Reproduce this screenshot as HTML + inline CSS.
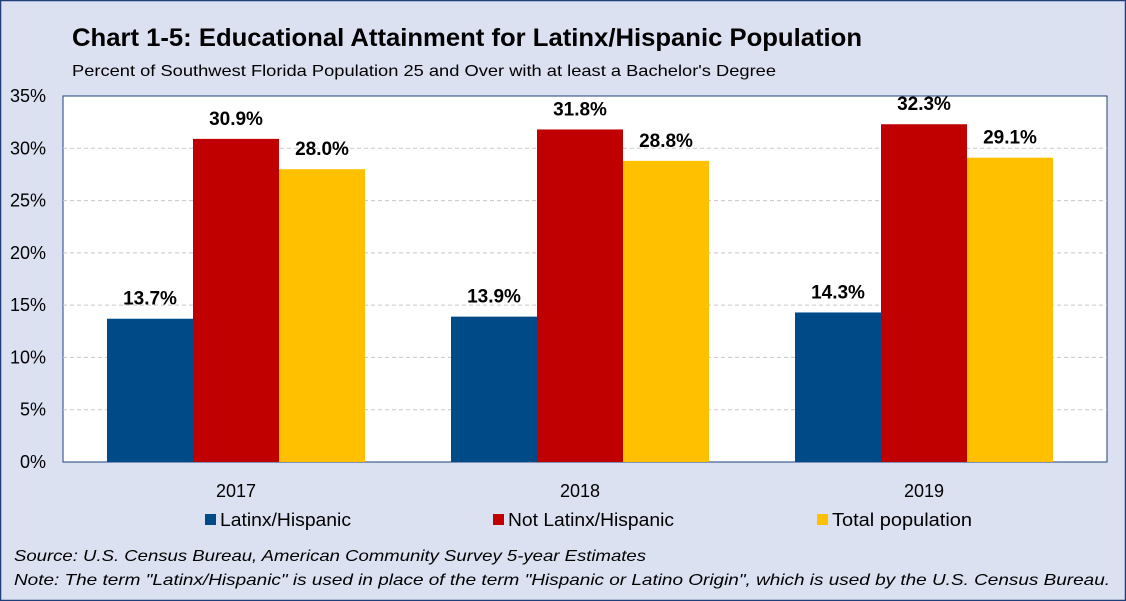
<!DOCTYPE html>
<html><head><meta charset="utf-8"><style>
html,body{margin:0;padding:0;width:1126px;height:601px;overflow:hidden;background:#dbe1f1}
svg{display:block;font-family:"Liberation Sans",sans-serif}
</style></head><body>
<svg id="chart" width="1126" height="601" xmlns="http://www.w3.org/2000/svg">
<rect x="0.5" y="0.5" width="1125" height="600" fill="#dbe1f1" stroke="#1f3f7a" stroke-width="1.5"/>
<text x="72" y="46" font-size="25" font-weight="bold" fill="#000" textLength="790" lengthAdjust="spacingAndGlyphs">Chart 1-5:  Educational Attainment for Latinx/Hispanic Population</text>
<text x="72" y="76" font-size="16" fill="#000" textLength="704" lengthAdjust="spacingAndGlyphs">Percent of Southwest Florida Population 25 and Over with at least a Bachelor's Degree</text>
<rect x="63" y="96" width="1044" height="366" fill="#fff" stroke="#1f3f7a" stroke-width="1"/>
<g id="grid"></g><g id="bars"></g><g id="axes"></g>
<g font-size="18">
<rect x="205" y="514" width="11" height="11" fill="#004a87"/>
<text x="220" y="526" textLength="131" lengthAdjust="spacingAndGlyphs">Latinx/Hispanic</text>
<rect x="493" y="514" width="11" height="11" fill="#c00000"/>
<text x="508" y="526" textLength="166" lengthAdjust="spacingAndGlyphs">Not Latinx/Hispanic</text>
<rect x="817" y="514" width="11" height="11" fill="#ffc000"/>
<text x="832" y="526" textLength="140" lengthAdjust="spacingAndGlyphs">Total population</text>
</g>
<text x="14" y="561" font-size="16" font-style="italic" textLength="632" lengthAdjust="spacingAndGlyphs">Source:  U.S. Census Bureau, American Community Survey 5-year Estimates</text>
<text x="14" y="585" font-size="16" font-style="italic" textLength="1096" lengthAdjust="spacingAndGlyphs">Note:  The term "Latinx/Hispanic" is used in place of the term "Hispanic or Latino Origin", which is used by the U.S. Census Bureau.</text>
</svg>
<script>
const categories = ["2017", "2018", "2019"];
const latinx = [13.7, 13.9, 14.3];
const notLatinx = [30.9, 31.8, 32.3];
const total = [28.0, 28.8, 29.1];
const yTicks = [0, 5, 10, 15, 20, 25, 30, 35];

const NS = "http://www.w3.org/2000/svg";
const plotL = 63, plotR = 1107, plotT = 96, plotB = 462, yMax = 35;
const y = v => plotB - (v / yMax) * (plotB - plotT);
const groupW = 344, groupOff = 44;
const barW = 86;
const x = (i, s) => plotL + groupOff + i * groupW + s * barW;
function mk(tag, attrs, parent) { const e = document.createElementNS(NS, tag); for (const k in attrs) e.setAttribute(k, attrs[k]); parent.appendChild(e); return e; }
const grid = document.getElementById("grid"), bars = document.getElementById("bars"), axes = document.getElementById("axes");
yTicks.forEach(t => {
  if (t > 0 && t < yMax) {
    const l = mk("line", {x1: plotL, x2: plotR, y1: y(t), y2: y(t), stroke: "#c8c8c8", "stroke-dasharray": "4,3"}, grid);
    
    
  }
  const tx = mk("text", {x: 46, y: y(t) + 6, "font-size": 18, "text-anchor": "end"}, axes);
  tx.textContent = t + "%";
  
  
});
const series = [[latinx, "#004a87", "latinx"], [notLatinx, "#c00000", "not-latinx"], [total, "#ffc000", "total"]];
categories.forEach((c, i) => {
  series.forEach(([vals, col, nm], s) => {
    const r = mk("rect", {x: x(i, s), y: y(vals[i]), width: barW, height: plotB - y(vals[i]), fill: col}, bars);
    
    
    const lb = mk("text", {x: x(i, s) + barW / 2, y: y(vals[i]) - 14, "font-size": 19, "font-weight": "bold", "text-anchor": "middle"}, bars);
    lb.textContent = vals[i].toFixed(1) + "%";
    
    
  });
  const xl = mk("text", {x: x(i, 1) + barW / 2, y: 497, "font-size": 18, "text-anchor": "middle"}, axes);
  xl.textContent = c;
  
  
});
</script>
</body></html>
